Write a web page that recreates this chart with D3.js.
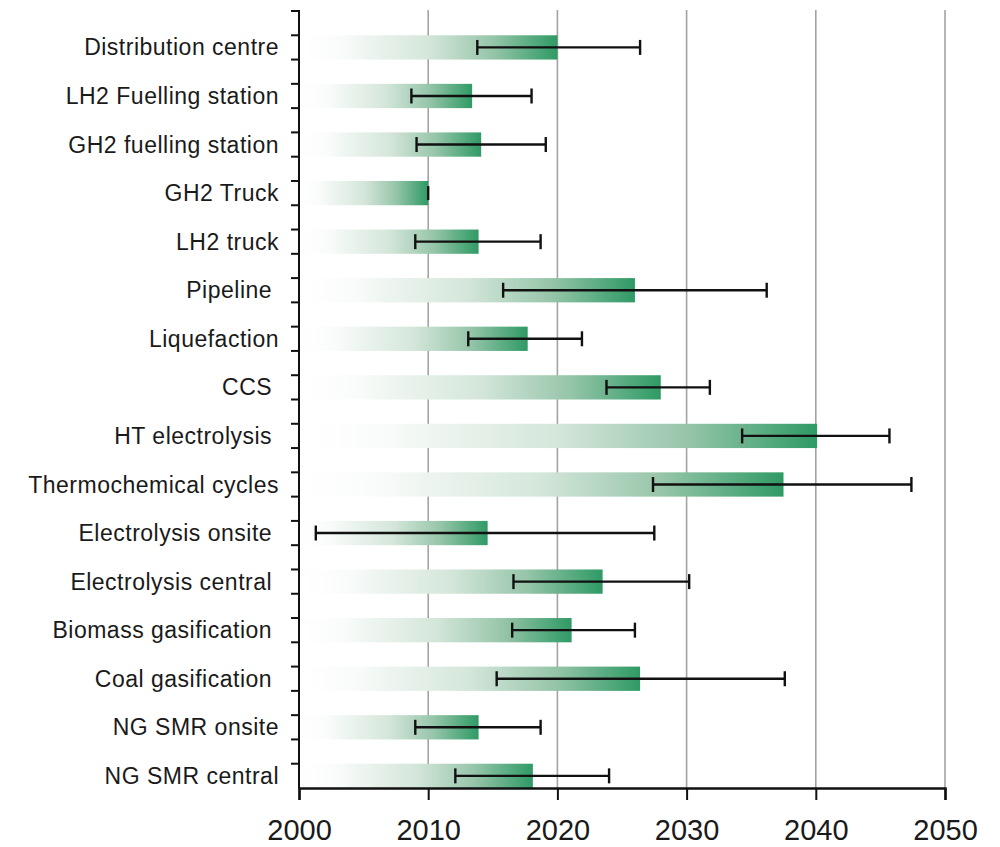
<!DOCTYPE html>
<html>
<head>
<meta charset="utf-8">
<script src="https://cdn.jsdelivr.net/npm/d3@7"></script>
<style>
  html, body { margin: 0; padding: 0; background: #fff; }
  svg { display: block; }
</style>
</head>
<body>
<div id="chart"></div>
<script>
// categories top to bottom (trailing spaces as in source labels)
const categories = [
  'Distribution centre', 'LH2 Fuelling station', 'GH2 fuelling station', 'GH2 Truck',
  'LH2 truck', 'Pipeline ', 'Liquefaction', 'CCS ', 'HT electrolysis ',
  'Thermochemical cycles', 'Electrolysis onsite ', 'Electrolysis central ',
  'Biomass gasification ', 'Coal gasification ', 'NG SMR onsite', 'NG SMR central'
];
const yearValues = [2020, 2013.4, 2014.1, 2010, 2013.9, 2026.0, 2017.7, 2028.0, 2040.1, 2037.5, 2014.6, 2023.5, 2021.1, 2026.4, 2013.9, 2018.1];
const errLow = [2013.8, 2008.7, 2009.1, null, 2009.0, 2015.8, 2013.1, 2023.8, 2034.3, 2027.4, 2001.3, 2016.6, 2016.5, 2015.3, 2009.0, 2012.1];
const errHigh = [2026.4, 2018.0, 2019.1, null, 2018.7, 2036.2, 2021.9, 2031.8, 2045.7, 2047.4, 2027.5, 2030.2, 2026.0, 2037.6, 2018.7, 2024.0];
const xTicks = [2000, 2010, 2020, 2030, 2040, 2050];

const W = 1000, H = 847;
const margin = { top: 11, left: 299, right: 55, bottom: 59 };
const innerBottom = H - margin.bottom;

const svg = d3.select('#chart').append('svg').attr('width', W).attr('height', H);

const x = d3.scaleLinear().domain([2000, 2050]).range([margin.left, W - margin.right]);
const y = d3.scaleBand().domain(categories).range([margin.top, innerBottom]);
const bw = y.bandwidth();
const barH = bw / 2;

// gradient white -> green along each bar
const grad = svg.append('defs').append('linearGradient')
  .attr('id', 'barGrad').attr('x1', 0).attr('x2', 1).attr('y1', 0).attr('y2', 0);
[[0, '#ffffff'], [0.15, '#fafcfb'], [0.5, '#d4e6da'], [0.75, '#96c5a9'], [1, '#2f9a65']]
  .forEach(([o, c]) => grad.append('stop').attr('offset', o).attr('stop-color', c));

// vertical gridlines
svg.append('g').selectAll('line')
  .data(xTicks.slice(1))
  .join('line')
  .attr('x1', (d) => x(d)).attr('x2', (d) => x(d))
  .attr('y1', margin.top - 1).attr('y2', innerBottom)
  .attr('stroke', '#a3a3a3').attr('stroke-width', 1.6);

// bars
const rows = categories.map((c, i) => ({ c, v: yearValues[i], lo: errLow[i], hi: errHigh[i] }));
svg.append('g').selectAll('rect')
  .data(rows)
  .join('rect')
  .attr('x', x(2000) + 1)
  .attr('y', (d) => y(d.c) + bw - barH)
  .attr('width', (d) => x(d.v) - x(2000) - 1)
  .attr('height', barH)
  .attr('fill', 'url(#barGrad)');

// error bars
const eb = svg.append('g').attr('stroke', '#111').attr('stroke-width', 2.4);
rows.filter((d) => d.lo != null).forEach((d) => {
  const cy = y(d.c) + bw - barH / 2;
  eb.append('line').attr('x1', x(d.lo)).attr('x2', x(d.hi)).attr('y1', cy).attr('y2', cy);
  eb.append('line').attr('x1', x(d.lo)).attr('x2', x(d.lo)).attr('y1', cy - 7.5).attr('y2', cy + 7.5);
  eb.append('line').attr('x1', x(d.hi)).attr('x2', x(d.hi)).attr('y1', cy - 7.5).attr('y2', cy + 7.5);
});
// GH2 Truck has just an end mark at the bar tip
rows.filter((d) => d.lo == null).forEach((d) => {
  const cy = y(d.c) + bw - barH / 2;
  eb.append('line').attr('x1', x(d.v)).attr('x2', x(d.v)).attr('y1', cy - 7).attr('y2', cy + 7);
});

// left axis with half-band ticks
const leftTicks = [];
categories.forEach((c) => { leftTicks.push(y(c)); leftTicks.push(y(c) + bw - barH); });
const ax = svg.append('g').attr('stroke', '#111').attr('stroke-width', 2);
ax.append('line').attr('x1', x(2000)).attr('x2', x(2000)).attr('y1', margin.top - 1).attr('y2', innerBottom + 1);
ax.selectAll('.lt').data(leftTicks).join('line')
  .attr('class', 'lt')
  .attr('x1', x(2000) - 8).attr('x2', x(2000))
  .attr('y1', (d) => d).attr('y2', (d) => d);

// category labels
svg.append('g').selectAll('text')
  .data(categories)
  .join('text')
  .attr('x', 279)
  .attr('y', (d) => y(d) + bw - barH / 2)
  .attr('dy', '0.35em')
  .attr('text-anchor', 'end')
  .attr('font-family', 'Liberation Sans, Arial, sans-serif')
  .attr('font-size', 23)
  .attr('letter-spacing', 0.5)
  .style('white-space', 'pre')
  .attr('fill', '#1a1a1a')
  .text((d) => d);

// bottom axis
const xAxis = svg.append('g')
  .attr('transform', `translate(0,${innerBottom})`)
  .call(d3.axisBottom(x).tickValues(xTicks).tickSize(12).tickFormat(d3.format('d')));
xAxis.select('.domain').attr('stroke', '#111').attr('stroke-width', 2.4);
xAxis.selectAll('.tick line').attr('stroke', '#111').attr('stroke-width', 2);
xAxis.selectAll('.tick text')
  .attr('y', 52)
  .attr('dy', null)
  .attr('fill', '#1a1a1a')
  .attr('font-family', 'Liberation Sans, Arial, sans-serif')
  .attr('font-size', 29);
</script>
</body>
</html>
